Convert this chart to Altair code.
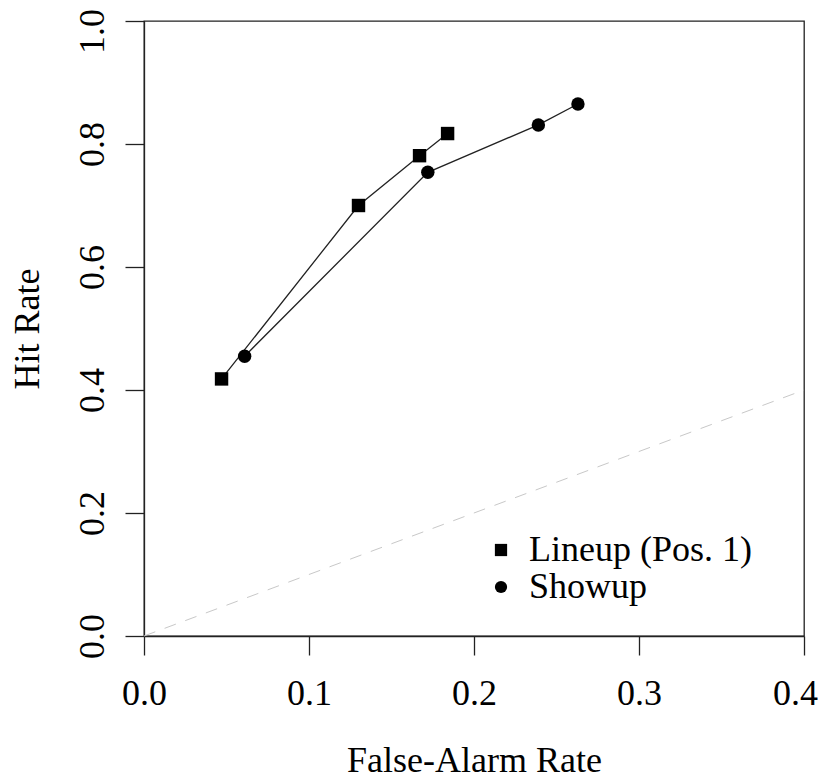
import altair as alt
import pandas as pd

series_names = ["Lineup (Pos. 1)", "Showup"]
lineup_far = [0.047, 0.130, 0.167, 0.184]
lineup_hit = [0.418, 0.700, 0.781, 0.817]
showup_far = [0.061, 0.172, 0.239, 0.263]
showup_hit = [0.455, 0.754, 0.831, 0.865]
chance_x = [0.0, 0.4]
chance_y = [0.0, 0.4]
x_ticks = [0.0, 0.1, 0.2, 0.3, 0.4]
y_ticks = [0.0, 0.2, 0.4, 0.6, 0.8, 1.0]

rows = []
for f, h in zip(lineup_far, lineup_hit):
    rows.append({"far": f, "hit": h, "series": series_names[0]})
for f, h in zip(showup_far, showup_hit):
    rows.append({"far": f, "hit": h, "series": series_names[1]})
df = pd.DataFrame(rows)
chance = pd.DataFrame({"far": chance_x, "hit": chance_y})

FONT = "Liberation Serif"
FS = 36

xs = alt.Scale(domain=[0, 0.4], nice=False, zero=False)
ys = alt.Scale(domain=[0, 1.0], nice=False, zero=False)

x_axis = alt.Axis(
    values=x_ticks, format=".1f", title="False-Alarm Rate", grid=False,
    tickSize=19, labelPadding=49, labelBaseline="alphabetic", labelAlign="center",
    labelOffset={"condition": {"test": "datum.value >= 0.39", "value": -9}, "value": 0},
    labelFlush=False, labelOverlap=False, labelBound=False,
    titleY=135, titleBaseline="alphabetic",
)
y_axis = alt.Axis(
    values=y_ticks, format=".1f", title="Hit Rate", grid=False,
    tickSize=19, labelPadding=22, labelAngle=270, labelAlign="center",
    labelBaseline="alphabetic",
    labelOffset={"condition": {"test": "datum.value >= 0.99", "value": 10}, "value": 0},
    labelFlush=False, labelOverlap=False, labelBound=False,
    titleX=-106, titleBaseline="alphabetic", titleAngle=270, titleAlign="center",
)

dash = alt.Chart(chance).mark_line(color="#c8c8c8", strokeWidth=1, strokeDash=[12, 10]).encode(
    x=alt.X("far:Q", scale=xs, axis=x_axis),
    y=alt.Y("hit:Q", scale=ys, axis=y_axis),
)

lines = alt.Chart(df).mark_line(color="#222", strokeWidth=1.3).encode(
    x=alt.X("far:Q", scale=xs),
    y=alt.Y("hit:Q", scale=ys),
    detail="series:N",
)

shape_scale = alt.Scale(domain=series_names, range=["square", "circle"])

points = alt.Chart(df).mark_point(filled=True, color="black", opacity=1, size=180).encode(
    x=alt.X("far:Q", scale=xs),
    y=alt.Y("hit:Q", scale=ys),
    shape=alt.Shape("series:N", scale=shape_scale, legend=alt.Legend(
        title=None, orient="none", legendX=339, legendY=511,
        symbolSize=150, symbolFillColor="black", symbolStrokeColor="black",
        symbolOpacity=1,
        labelFont=FONT, labelFontSize=FS, labelColor="black", labelOffset=10,
        labelLimit=400, rowPadding=1, padding=0,
    )),
)

chart = alt.layer(dash, lines, points).properties(
    width=660, height=615,
    autosize=alt.AutoSizeParams(type="none"),
    padding={"left": 136, "top": 13, "right": 14, "bottom": 143},
).configure_view(
    stroke="#222", strokeWidth=1.3,
).configure_axis(
    domainColor="#222", domainWidth=1.3, tickColor="#222", tickWidth=1.3,
    labelFont=FONT, labelFontSize=FS, labelColor="black",
    titleFont=FONT, titleFontSize=FS, titleColor="black", titleFontWeight="normal",
)

chart.save("out.html", embed_options={"renderer": "svg", "actions": False})
